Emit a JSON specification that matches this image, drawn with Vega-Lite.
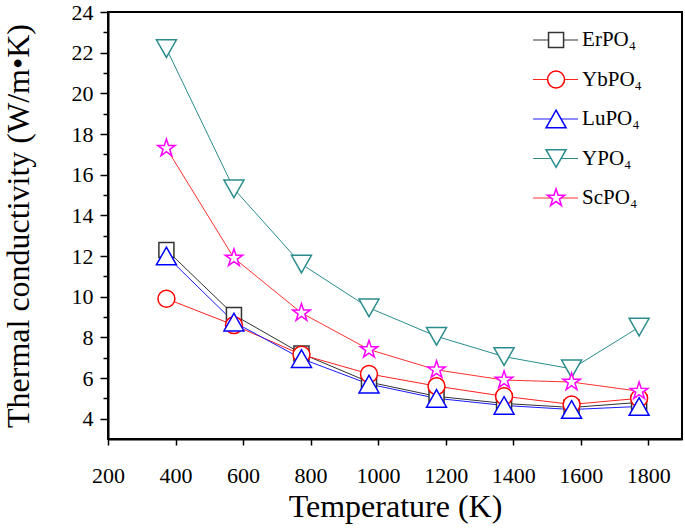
{
  "$schema": "https://vega.github.io/schema/vega-lite/v6.json",
  "width": 574,
  "height": 427,
  "autosize": "none",
  "padding": {"left": 108, "top": 12, "right": 3, "bottom": 90},
  "background": "white",
  "config": {
    "font": "Liberation Serif",
    "view": {"stroke": "#000", "strokeWidth": 2},
    "axis": {
      "domainColor": "#000", "domainWidth": 2, "tickColor": "#000", "tickWidth": 1.5,
      "labelColor": "#000", "titleColor": "#000", "grid": false,
      "labelFont": "Liberation Serif", "titleFont": "Liberation Serif",
      "labelFontSize": 22, "titleFontSize": 32, "titleFontWeight": "normal"
    }
  },
  "data": {
    "values": [
      {"series": "ErPO₄", "T": 373, "k": 12.3},
      {"series": "ErPO₄", "T": 573, "k": 9.1},
      {"series": "ErPO₄", "T": 773, "k": 7.2},
      {"series": "ErPO₄", "T": 973, "k": 5.8},
      {"series": "ErPO₄", "T": 1173, "k": 5.1},
      {"series": "ErPO₄", "T": 1373, "k": 4.75},
      {"series": "ErPO₄", "T": 1573, "k": 4.55},
      {"series": "ErPO₄", "T": 1773, "k": 4.8},
      {"series": "YbPO₄", "T": 373, "k": 9.9},
      {"series": "YbPO₄", "T": 573, "k": 8.6},
      {"series": "YbPO₄", "T": 773, "k": 7.15},
      {"series": "YbPO₄", "T": 973, "k": 6.2},
      {"series": "YbPO₄", "T": 1173, "k": 5.6},
      {"series": "YbPO₄", "T": 1373, "k": 5.1},
      {"series": "YbPO₄", "T": 1573, "k": 4.7},
      {"series": "YbPO₄", "T": 1773, "k": 5.0},
      {"series": "LuPO₄", "T": 373, "k": 12.0},
      {"series": "LuPO₄", "T": 573, "k": 8.75},
      {"series": "LuPO₄", "T": 773, "k": 6.95},
      {"series": "LuPO₄", "T": 973, "k": 5.7},
      {"series": "LuPO₄", "T": 1173, "k": 5.0},
      {"series": "LuPO₄", "T": 1373, "k": 4.65},
      {"series": "LuPO₄", "T": 1573, "k": 4.45},
      {"series": "LuPO₄", "T": 1773, "k": 4.6},
      {"series": "YPO₄", "T": 373, "k": 22.2},
      {"series": "YPO₄", "T": 573, "k": 15.3},
      {"series": "YPO₄", "T": 773, "k": 11.6},
      {"series": "YPO₄", "T": 973, "k": 9.45},
      {"series": "YPO₄", "T": 1173, "k": 8.05},
      {"series": "YPO₄", "T": 1373, "k": 7.05},
      {"series": "YPO₄", "T": 1573, "k": 6.45},
      {"series": "YPO₄", "T": 1773, "k": 8.5},
      {"series": "ScPO₄", "T": 373, "k": 17.3},
      {"series": "ScPO₄", "T": 573, "k": 11.9},
      {"series": "ScPO₄", "T": 773, "k": 9.2},
      {"series": "ScPO₄", "T": 973, "k": 7.4},
      {"series": "ScPO₄", "T": 1173, "k": 6.4},
      {"series": "ScPO₄", "T": 1373, "k": 5.9},
      {"series": "ScPO₄", "T": 1573, "k": 5.8},
      {"series": "ScPO₄", "T": 1773, "k": 5.35}
    ]
  },
  "layer": [
    {
      "encoding": {
        "x": {
          "field": "T", "type": "quantitative",
          "scale": {"domain": [200, 1900], "nice": false, "zero": false},
          "axis": {
            "title": "Temperature (K)",
            "values": [200, 300, 400, 500, 600, 700, 800, 900, 1000, 1100, 1200, 1300, 1400, 1500, 1600, 1700, 1800],
            "labelExpr": "datum.value % 200 === 0 ? datum.label : ''",
            "format": "d",
            "tickSize": {"condition": {"test": "datum.value % 200 === 0", "value": 6}, "value": 4},
            "labelPadding": 20,
            "labelFlush": false,
            "labelOverlap": false,
            "titlePadding": 5
          }
        },
        "y": {
          "field": "k", "type": "quantitative",
          "scale": {"domain": [3, 24], "nice": false, "zero": false},
          "axis": {
            "title": "Thermal conductivity (W/m•K)",
            "values": [4, 5, 6, 7, 8, 9, 10, 11, 12, 13, 14, 15, 16, 17, 18, 19, 20, 21, 22, 23, 24],
            "labelExpr": "datum.value % 2 === 0 ? datum.label : ''",
            "tickSize": {"condition": {"test": "datum.value % 2 === 0", "value": 8}, "value": 5},
            "labelPadding": 7,
            "labelOverlap": false,
            "labelFlush": false,
            "titlePadding": 36
          }
        }
      },
      "layer": [
        {
          "mark": {"type": "line", "strokeWidth": 1, "clip": true},
          "encoding": {
            "stroke": {
              "field": "series", "type": "nominal",
              "scale": {"domain": ["ErPO₄", "YbPO₄", "LuPO₄", "YPO₄", "ScPO₄"], "range": ["#333333", "#ff2020", "#1a1aff", "#2a8c8c", "#ff3030"]},
              "legend": null
            },
            "detail": {"field": "series"}
          }
        },
        {
          "mark": {"type": "point", "fill": "white", "filled": false, "opacity": 1, "strokeWidth": 1.5, "size": 256},
          "encoding": {
            "color": {
              "field": "series", "type": "nominal",
              "scale": {"domain": ["ErPO₄", "YbPO₄", "LuPO₄", "YPO₄", "ScPO₄"], "range": ["#333333", "#ff0000", "#0000ff", "#2a8c8c", "#ff00ff"]},
              "legend": null
            },
            "shape": {
              "field": "series", "type": "nominal",
              "scale": {
                "domain": ["ErPO₄", "YbPO₄", "LuPO₄", "YPO₄", "ScPO₄"],
                "range": [
                  "M-0.94,-0.94H0.94V0.94H-0.94Z",
                  "M1.06,0A1.06,1.06,0,1,1,-1.06,0A1.06,1.06,0,1,1,1.06,0Z",
                  "M0,-1.1L1.25,1.1L-1.25,1.1Z",
                  "M0,1.1L1.25,-1.1L-1.25,-1.1Z",
                  "M0,-1.15L0.2586,-0.356L1.0937,-0.3554L0.4185,0.136L0.676,0.9304L0,0.44L-0.676,0.9304L-0.4185,0.136L-1.0937,-0.3554L-0.2586,-0.356Z"
                ]
              },
              "legend": null
            }
          }
        }
      ]
    },
    {
      "data": {
        "values": [
          {"series": "ErPO₄"},
          {"series": "YbPO₄"},
          {"series": "LuPO₄"},
          {"series": "YPO₄"},
          {"series": "ScPO₄"}
        ]
      },
      "encoding": {
        "y": {
          "field": "series", "type": "nominal",
          "scale": {"type": "point", "domain": ["ErPO₄", "YbPO₄", "LuPO₄", "YPO₄", "ScPO₄"], "range": [28, 186], "padding": 0},
          "axis": null
        }
      },
      "layer": [
        {
          "mark": {"type": "rule", "strokeWidth": 1},
          "encoding": {
            "x": {"datum": 1459, "type": "quantitative", "scale": {"domain": [200, 1900], "nice": false, "zero": false}},
            "x2": {"datum": 1592},
            "stroke": {"field": "series", "type": "nominal", "legend": null}
          }
        },
        {
          "mark": {"type": "point", "fill": "white", "filled": false, "opacity": 1, "strokeWidth": 1.5, "size": 256},
          "encoding": {
            "x": {"datum": 1527, "type": "quantitative", "scale": {"domain": [200, 1900], "nice": false, "zero": false}},
            "color": {"field": "series", "type": "nominal", "legend": null},
            "shape": {"field": "series", "type": "nominal", "legend": null}
          }
        },
        {
          "mark": {"type": "text", "align": "left", "baseline": "middle", "font": "Liberation Serif", "fontSize": 21, "color": "#000"},
          "encoding": {
            "x": {"datum": 1604, "type": "quantitative", "scale": {"domain": [200, 1900], "nice": false, "zero": false}},
            "text": {"field": "series", "type": "nominal"}
          }
        }
      ]
    }
  ],
  "resolve": {"scale": {"y": "independent"}}
}
